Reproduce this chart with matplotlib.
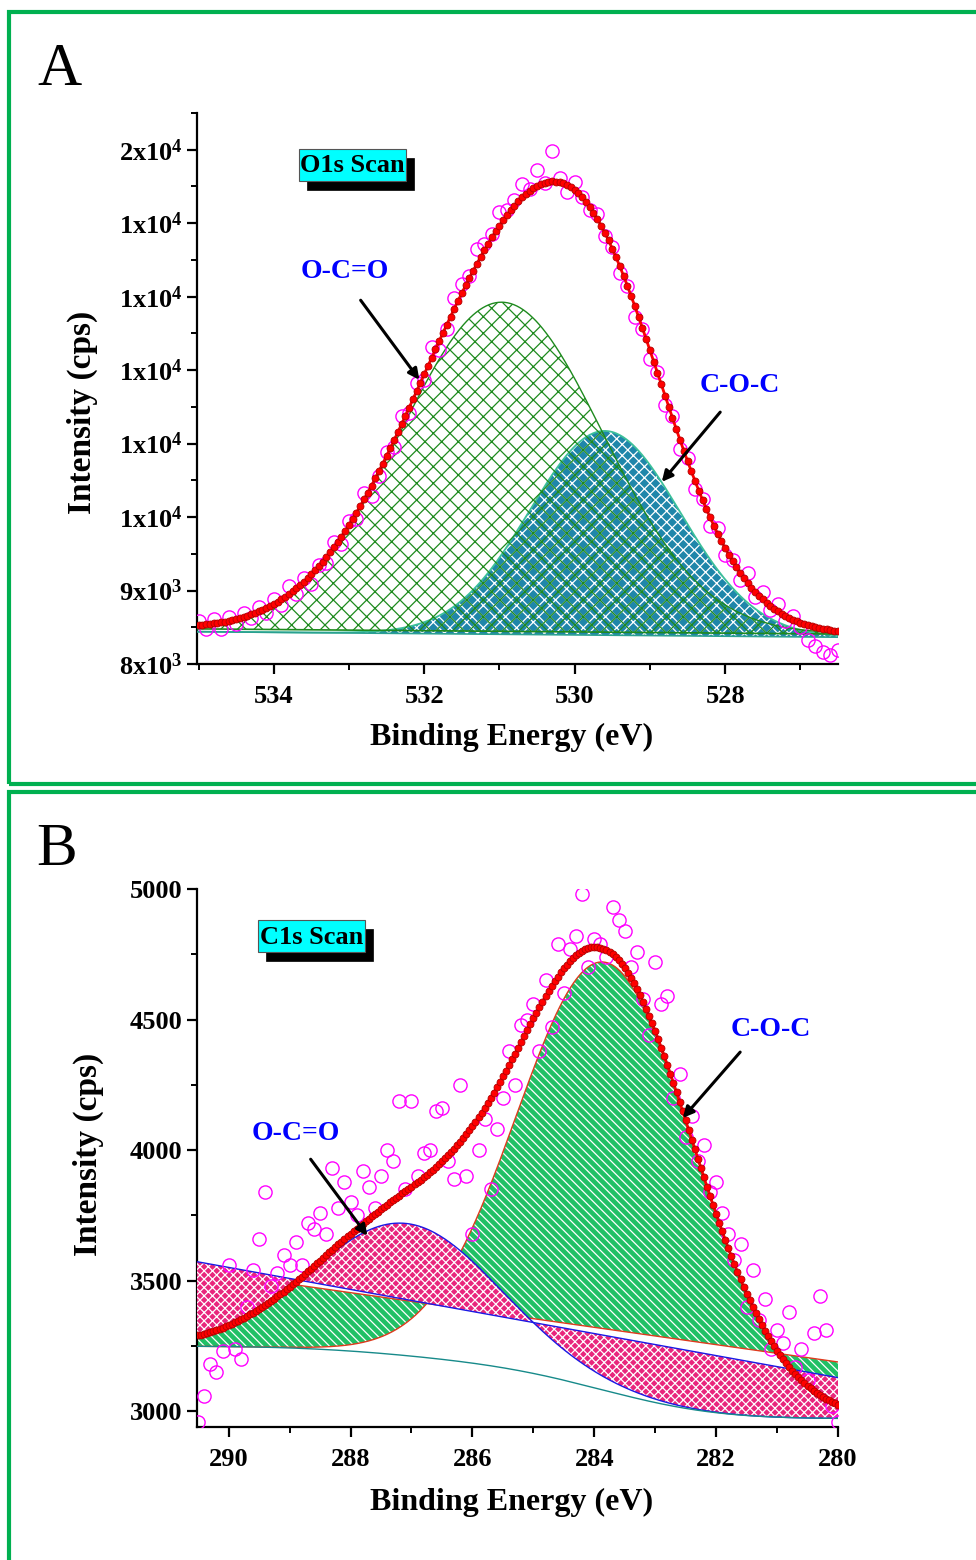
import matplotlib
matplotlib.use('Agg')
import matplotlib.pyplot as plt
import numpy as np
from matplotlib.patches import Rectangle
from matplotlib.ticker import MultipleLocator, FuncFormatter

plt.rcParams['font.family'] = ['Liberation Serif', 'DejaVu Serif']
plt.rcParams['font.weight'] = 'bold'
plt.rcParams['mathtext.fontset'] = 'custom'
plt.rcParams['mathtext.rm'] = 'Liberation Serif:bold'
plt.rcParams['mathtext.default'] = 'regular'
plt.rcParams['hatch.linewidth'] = 0.9

W, H = 976, 1560

# ---------------- O1s scan (panel A) ----------------
o1s_energy = np.linspace(535.0, 526.5, 86)
o1s_counts = [8590, 8480, 8610, 8470, 8640, 8540, 8700, 8620, 8780, 8690,
              8890, 8800, 9060, 8950, 9170, 9090, 9350, 9380, 9660, 9640,
              9950, 9980, 10330, 10280, 10560, 10890, 10960, 11380, 11420, 11820,
              11870, 12320, 12280, 12560, 12980, 13170, 13280, 13650, 13720, 13850,
              14150, 14180, 14320, 14540, 14460, 14720, 14550, 14980, 14610, 14430,
              14560, 14350, 14180, 14120, 13820, 13680, 13320, 13150, 12720, 12560,
              12150, 11980, 11530, 11380, 10920, 10810, 10380, 10250, 9880, 9850,
              9480, 9420, 9150, 9240, 8910, 8980, 8730, 8810, 8590, 8660,
              8500, 8330, 8240, 8160, 8120, 8190]
# fitted components: O-C=O, C-O-C
o1s_center = [530.97, 529.60]
o1s_sigma = [1.34, 1.00]
o1s_height = [4480, 2780]
o1s_base_left = [8478, 8440]    # linear baselines at 535 eV
o1s_base_right = [8408, 8365]   # ... and at 526.5 eV

# ---------------- C1s scan (panel B) ----------------
c1s_energy = np.linspace(290.5, 280.0, 106)
c1s_counts = [2960, 3060, 3180, 3150, 3230, 3560, 3240, 3200, 3400, 3540,
              3660, 3840, 3480, 3530, 3600, 3560, 3650, 3560, 3720, 3700,
              3760, 3680, 3930, 3780, 3880, 3800, 3750, 3920, 3860, 3780,
              3900, 4000, 3960, 4190, 3850, 4190, 3900, 3990, 4000, 4150,
              4160, 3960, 3890, 4250, 3900, 3680, 4000, 4120, 3850, 4080,
              4200, 4380, 4250, 4480, 4500, 4560, 4380, 4650, 4470, 4790,
              4600, 4770, 4820, 4980, 4700, 4810, 4790, 4740, 4930, 4880,
              4840, 4700, 4760, 4580, 4440, 4720, 4560, 4590, 4200, 4290,
              4050, 4130, 3960, 4020, 3840, 3880, 3760, 3680, 3580, 3640,
              3400, 3540, 3350, 3430, 3240, 3310, 3260, 3380, 3170, 3240,
              3120, 3300, 3440, 3310, 3020, 2960]
# fitted components: O-C=O, C-O-C
c1s_center = [287.10, 283.80]
c1s_sigma = [1.52, 1.45]
c1s_height = [506, 1640]
c1s_shirley = [3249, 2973]          # background at high / low BE end
c1s_line_left = [3573, 3538]        # component lines at 290.52 eV
c1s_line_right = [3129, 3189]       # ... and at 280 eV


def gauss(x, c, s, h):
    return h * np.exp(-0.5 * ((x - c) / s) ** 2)


def fp(x, y):
    return (x / W, 1 - y / H)


fig = plt.figure(figsize=(W / 100, H / 100), dpi=100)

# green frames round the panels
for y0, y1 in [(12, 784), (792, 1570)]:
    fig.patches.append(Rectangle((9 / W, 1 - y1 / H), 1.0, (y1 - y0) / H,
                                 transform=fig.transFigure, fill=False,
                                 ec='#00b050', lw=3, clip_on=False))


def style_axis(ax):
    for s in ['top', 'right']:
        ax.spines[s].set_visible(False)
    for s in ['left', 'bottom']:
        ax.spines[s].set_linewidth(1.6)
    ax.tick_params(which='major', direction='out', length=7, width=1.6, labelsize=19)
    ax.tick_params(axis='x', which='major', pad=8)
    ax.tick_params(which='minor', direction='out', length=4, width=1.4)
    ax.xaxis.set_major_locator(MultipleLocator(2))
    ax.xaxis.set_minor_locator(MultipleLocator(1))


def sci_label(v, pos):
    if v <= 0:
        return ''
    e = int(np.floor(np.log10(v) + 1e-9))
    m = int(v / 10 ** e + 0.5)
    return '%dx10$^{%d}$' % (m, e)


# ================= panel A =================
axA = fig.add_axes([197 / W, 1 - 664 / H, 641 / W, 551 / H])
style_axis(axA)
xa = np.linspace(535.02, 526.5, 600)
baseA = [np.interp(xa, [526.5, 535.02], [r, l]) for l, r in zip(o1s_base_left, o1s_base_right)]
gA = [gauss(xa, c, s, h) for c, s, h in zip(o1s_center, o1s_sigma, o1s_height)]

# C-O-C component (filled blue, white mesh)
axA.fill_between(xa, baseA[1], baseA[1] + gA[1], facecolor='#1f86aa', edgecolor='white',
                 hatch='xxx', linewidth=0, zorder=2)
axA.plot(xa, baseA[1] + gA[1], color='#3cc09a', lw=1.3, zorder=3)
axA.plot(xa, baseA[1], color='#2aa090', lw=1.2, zorder=3)
# O-C=O component (green mesh)
axA.fill_between(xa, baseA[0], baseA[0] + gA[0], facecolor='none', edgecolor='#1e8a1e',
                 hatch='xx', linewidth=0, zorder=4)
axA.plot(xa, baseA[0] + gA[0], color='#1e8a1e', lw=1.0, zorder=4)
axA.plot(xa, baseA[0], color='#1e8a1e', lw=1.2, zorder=4)

axA.plot(o1s_energy, o1s_counts, 'o', ms=9.5, mfc='none', mec='#ff00ff', mew=1.0, zorder=5)
xe = np.linspace(535.0, 526.5, 171)
envA = np.interp(xe, [526.5, 535.02], [o1s_base_right[0], o1s_base_left[0]])
for c, s, h in zip(o1s_center, o1s_sigma, o1s_height):
    envA = envA + gauss(xe, c, s, h)
axA.plot(xe, envA, '-', color='red', lw=2, marker='o', ms=5, mfc='red', mec='#b00000',
         mew=0.6, zorder=6)

axA.set_xlim(535.02, 526.5)
axA.set_ylim(8000, 15500)
axA.yaxis.set_major_locator(MultipleLocator(1000))
axA.yaxis.set_minor_locator(MultipleLocator(500))
axA.yaxis.set_major_formatter(FuncFormatter(sci_label))

# ================= panel B =================
axB = fig.add_axes([197 / W, 1 - 1427 / H, 641 / W, 538 / H])
style_axis(axB)
xb = np.linspace(280.0, 290.52, 800)
gB = [gauss(xb, c, s, h) for c, s, h in zip(c1s_center, c1s_sigma, c1s_height)]
cum = np.cumsum(gB[0] + gB[1])
bgB = c1s_shirley[1] + (c1s_shirley[0] - c1s_shirley[1]) * cum / cum[-1]
lineB = [np.interp(xb, [280.0, 290.52], [r, l]) for l, r in zip(c1s_line_left, c1s_line_right)]

# C-O-C (green, white stripes)
axB.fill_between(xb, lineB[1], bgB + gB[1], facecolor='#20c065', edgecolor='white',
                 hatch='\\\\\\\\', linewidth=0, zorder=2)
axB.plot(xb, bgB + gB[1], color='#e03a1e', lw=1.0, zorder=3)
axB.plot(xb, lineB[1], color='#e03a1e', lw=1.0, zorder=3)
# O-C=O (pink, white mesh)
axB.fill_between(xb, lineB[0], bgB + gB[0], facecolor='#e8267c', edgecolor='white',
                 hatch='xxxx', linewidth=0, zorder=3)
axB.plot(xb, bgB + gB[0], color='#1a1ae6', lw=1.0, zorder=4)
axB.plot(xb, lineB[0], color='#1a1ae6', lw=1.0, zorder=4)
axB.plot(xb, bgB, color='#178a8a', lw=1.0, zorder=4)

axB.plot(c1s_energy, c1s_counts, 'o', ms=9.5, mfc='none', mec='#ff00ff', mew=1.0, zorder=5)
xe = np.linspace(290.5, 280.0, 211)
bgE = np.interp(xe, xb, bgB)
envB = bgE + gauss(xe, c1s_center[0], c1s_sigma[0], c1s_height[0]) \
    + gauss(xe, c1s_center[1], c1s_sigma[1], c1s_height[1])
axB.plot(xe, envB, '-', color='red', lw=2, marker='o', ms=5, mfc='red', mec='#b00000',
         mew=0.6, zorder=6)

axB.set_xlim(290.52, 280.0)
axB.set_ylim(2940, 5000)
axB.yaxis.set_major_locator(MultipleLocator(500))
axB.yaxis.set_minor_locator(MultipleLocator(250))

# axis labels
for ax, ylx, yly, xly in [(axA, -0.179, 0.457, -0.134), (axB, -0.170, 0.506, -0.141)]:
    ax.set_xlabel('Binding Energy (eV)', fontsize=23, fontweight='bold')
    ax.set_ylabel('Intensity (cps)', fontsize=24, fontweight='bold')
    ax.xaxis.set_label_coords(0.491, xly)
    ax.xaxis.label.set_va('center')
    ax.yaxis.set_label_coords(ylx, yly)
    ax.yaxis.label.set_va('center')

# panel letters
fig.text(*fp(60, 70), 'A', fontsize=44, fontweight='normal', ha='center', va='center')
fig.text(*fp(57, 850), 'B', fontsize=44, fontweight='normal', ha='center', va='center')


def scan_box(x0, y0, s):
    # black shadow, cyan box, then the text
    w, h = 107, 32
    fig.patches.append(Rectangle(fp(x0 + 8, y0 + h + 9), w / W, h / H, transform=fig.transFigure,
                                 fc='black', ec='black', lw=0.5))
    fig.patches.append(Rectangle(fp(x0, y0 + h), w / W, h / H, transform=fig.transFigure,
                                 fc='#00ffff', ec='#555555', lw=0.8))
    fig.text(*fp(x0 + w / 2, y0 + h / 2 + 1), s, fontsize=19, fontweight='bold',
             ha='center', va='center', color='black')


scan_box(299, 149, 'O1s Scan')
scan_box(258, 920, 'C1s Scan')

# peak labels with arrows
labels = [('O-C=O', 345, 271, (359, 298), (421, 382)),
          ('C-O-C', 740, 385, (722, 410), (660, 484)),
          ('O-C=O', 296, 1133, (309, 1157), (369, 1238)),
          ('C-O-C', 771, 1030, (742, 1050), (681, 1120))]
for s, x, y, p0, p1 in labels:
    fig.text(*fp(x, y), s, fontsize=20, fontweight='bold', color='#0000ff', ha='center', va='center')
    ax = axA if y < 784 else axB
    ax.annotate('', xy=fp(*p1), xytext=fp(*p0), xycoords='figure fraction',
                textcoords='figure fraction',
                arrowprops=dict(arrowstyle='-|>', color='black', lw=2.2, mutation_scale=16),
                zorder=10)

fig.savefig('out.png', dpi=100)
